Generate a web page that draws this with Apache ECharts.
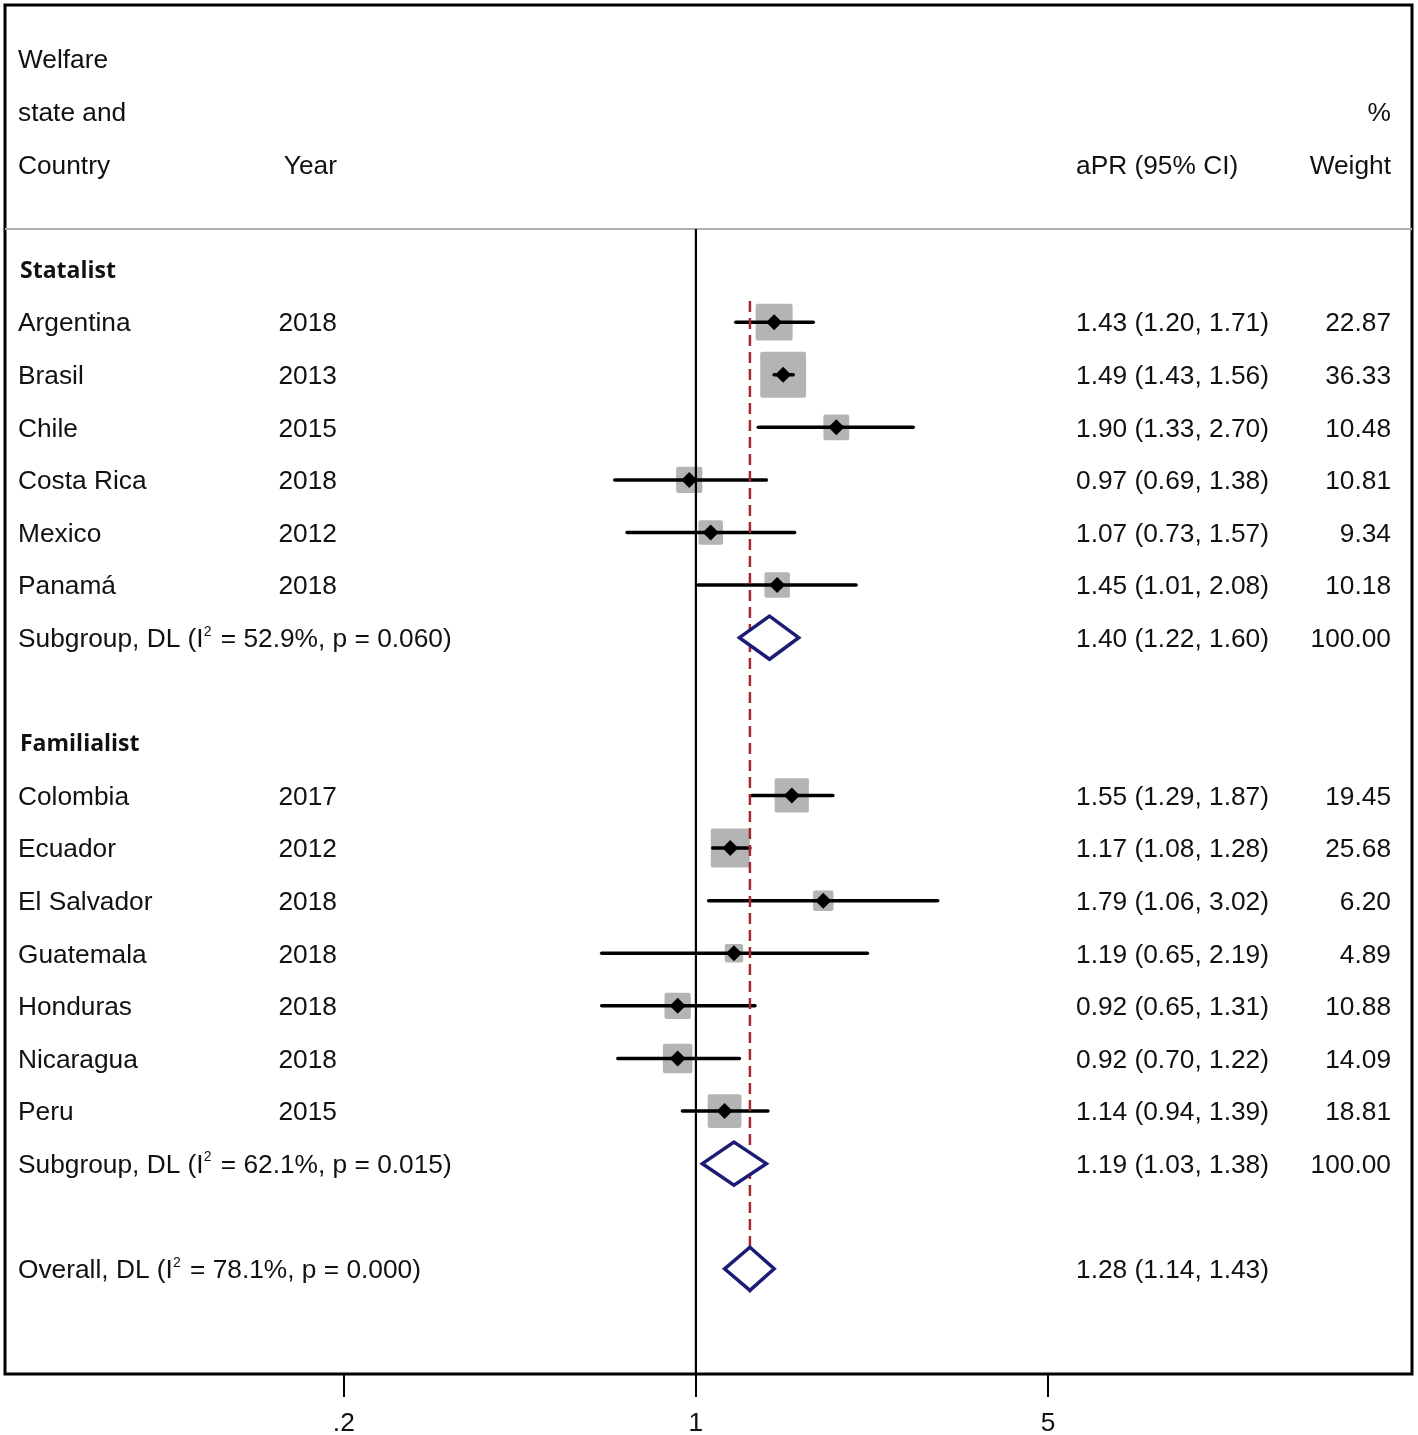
<!DOCTYPE html>
<html>
<head>
<meta charset="utf-8">
<script src="https://cdn.jsdelivr.net/npm/echarts@6/dist/echarts.min.js"></script>
<style>
html,body{margin:0;padding:0;background:#fff;}
#chart{width:1418px;height:1435px;}
</style>
</head>
<body>
<div id="chart"></div>
<script>
// ---------------- DATA ----------------
const group1Name = 'Statalist';
const countries1 = ['Argentina', 'Brasil', 'Chile', 'Costa Rica', 'Mexico', 'Panamá'];
const years1 = ['2018', '2013', '2015', '2018', '2012', '2018'];
const est1 = [1.43, 1.49, 1.90, 0.97, 1.07, 1.45];
const lci1 = [1.20, 1.43, 1.33, 0.69, 0.73, 1.01];
const uci1 = [1.71, 1.56, 2.70, 1.38, 1.57, 2.08];
const wt1 = [22.87, 36.33, 10.48, 10.81, 9.34, 10.18];
const sub1 = [1.40, 1.22, 1.60];          // est, lci, uci
const sub1Het = ['52.9%', '0.060'];        // I², p

const group2Name = 'Familialist';
const countries2 = ['Colombia', 'Ecuador', 'El Salvador', 'Guatemala', 'Honduras', 'Nicaragua', 'Peru'];
const years2 = ['2017', '2012', '2018', '2018', '2018', '2018', '2015'];
const est2 = [1.55, 1.17, 1.79, 1.19, 0.92, 0.92, 1.14];
const lci2 = [1.29, 1.08, 1.06, 0.65, 0.65, 0.70, 0.94];
const uci2 = [1.87, 1.28, 3.02, 2.19, 1.31, 1.22, 1.39];
const wt2 = [19.45, 25.68, 6.20, 4.89, 10.88, 14.09, 18.81];
const sub2 = [1.19, 1.03, 1.38];
const sub2Het = ['62.1%', '0.015'];

const overall = [1.28, 1.14, 1.43];
const overallHet = ['78.1%', '0.000'];

const tickValues = [0.2, 1, 5];
const tickLabels = ['.2', '1', '5'];
const nullValue = 1;
const axisExtent = [0.0425, 26.4];

// ---------------- BUILD ----------------
const L = v => Math.log10(v);
const FONT = "'Liberation Sans', Arial, sans-serif";
const BOLDFONT = "'Open Sans', 'Liberation Sans', sans-serif";
const FS = 26.3;
const TEXT_DY = 2;

const textRows = [];   // {row, label, year, ci, weight, bold}
const studies = [];    // {row, est, lci, uci, wt}
const pooled = [];     // {row, est, lci, uci}

textRows.push({row: 0, label: 'Welfare'});
textRows.push({row: 1, label: 'state and', weight: '%'});
textRows.push({row: 2, label: 'Country', year: 'Year', ci: 'aPR (95% CI)', weight: 'Weight'});

const fmtCI = (e, l, u) => e.toFixed(2) + ' (' + l.toFixed(2) + ', ' + u.toFixed(2) + ')';

let row = 4;
function addGroup(name, countries, years, est, lci, uci, wt, sub, het) {
  textRows.push({row: row, label: name, bold: true});
  row++;
  for (let i = 0; i < countries.length; i++) {
    textRows.push({row: row, label: countries[i], year: years[i], ci: fmtCI(est[i], lci[i], uci[i]), weight: wt[i].toFixed(2)});
    studies.push({row: row, est: est[i], lci: lci[i], uci: uci[i], wt: wt[i]});
    row++;
  }
  textRows.push({row: row, label: 'Subgroup, DL (I{sup|2} = ' + het[0] + ', p = ' + het[1] + ')', ci: fmtCI(sub[0], sub[1], sub[2]), weight: '100.00'});
  pooled.push({row: row, est: sub[0], lci: sub[1], uci: sub[2]});
  row += 2;
}
addGroup(group1Name, countries1, years1, est1, lci1, uci1, wt1, sub1, sub1Het);
addGroup(group2Name, countries2, years2, est2, lci2, uci2, wt2, sub2, sub2Het);
textRows.push({row: row, label: 'Overall, DL (I{sup|2} = ' + overallHet[0] + ', p = ' + overallHet[1] + ')', ci: fmtCI(overall[0], overall[1], overall[2])});
pooled.push({row: row, est: overall[0], lci: overall[1], uci: overall[2]});
const overallRow = row;

const xMin = L(axisExtent[0]), xMax = L(axisExtent[1]);
const yMin = -1.03, yMax = 25;
const headerLineRow = 3.23;

const chart = echarts.init(document.getElementById('chart'), null, {renderer: 'canvas'});

const richSup = {sup: {fontSize: 14, fontFamily: FONT, fill: '#111', verticalAlign: 'top', lineHeight: 30, padding: [0, 2, 0, 0]}};

function txt(x, y, text, align, opts) {
  opts = opts || {};
  return {
    type: 'text', x: x, y: y + TEXT_DY, silent: true,
    style: {
      text: text, fill: '#111',
      fontSize: opts.fontSize || FS,
      fontFamily: opts.fontFamily || FONT,
      fontWeight: opts.fontWeight || 'normal',
      align: align, verticalAlign: 'middle',
      rich: richSup
    }
  };
}

const option = {
  animation: false,
  backgroundColor: '#fff',
  grid: {left: 5, right: 6, top: 5, bottom: 61, show: true, borderColor: '#000', borderWidth: 3, backgroundColor: 'transparent', containLabel: false, outerBoundsMode: 'none'},
  xAxis: {
    type: 'value', min: xMin, max: xMax, position: 'bottom',
    splitLine: {show: false},
    axisLine: {show: false, onZero: false},
    axisTick: {show: true, customValues: tickValues.map(L), length: 23, lineStyle: {color: '#000', width: 2}},
    axisLabel: {
      customValues: tickValues.map(L), margin: 37, fontSize: FS, fontFamily: FONT, color: '#111',
      formatter: function (v) {
        for (let i = 0; i < tickValues.length; i++) if (Math.abs(L(tickValues[i]) - v) < 1e-6) return tickLabels[i];
        return '';
      }
    }
  },
  yAxis: {type: 'value', inverse: true, min: yMin, max: yMax, show: false},
  series: [
    { // weight boxes
      type: 'custom', z: 1, clip: false,
      data: studies.map(s => [L(s.est), s.row, s.wt]),
      renderItem: function (params, api) {
        const c = api.coord([api.value(0), api.value(1)]);
        const side = 7.2 * Math.sqrt(api.value(2)) + 2.5;
        return {type: 'rect', shape: {x: c[0] - side / 2, y: c[1] - side / 2, width: side, height: side, r: 2}, style: {fill: '#b4b4b4'}};
      }
    },
    { // header separator
      type: 'line', z: 2, symbol: 'none', silent: true,
      data: [[xMin, headerLineRow], [xMax, headerLineRow]],
      lineStyle: {color: '#b0b0b0', width: 2}
    },
    { // null line
      type: 'line', z: 2, symbol: 'none', silent: true,
      data: [[L(nullValue), headerLineRow], [L(nullValue), yMax]],
      lineStyle: {color: '#000', width: 2.2}
    },
    { // CI lines + point markers
      type: 'custom', z: 3, clip: false,
      data: studies.map(s => [L(s.est), s.row, L(s.lci), L(s.uci)]),
      renderItem: function (params, api) {
        const c = api.coord([api.value(0), api.value(1)]);
        const a = api.coord([api.value(2), api.value(1)]);
        const b = api.coord([api.value(3), api.value(1)]);
        const d = 8;
        return {type: 'group', children: [
          {type: 'line', shape: {x1: a[0], y1: a[1], x2: b[0], y2: b[1]}, style: {stroke: '#000', lineWidth: 3.5, lineCap: 'round'}},
          {type: 'polygon', shape: {points: [[c[0] - d, c[1]], [c[0], c[1] - d], [c[0] + d, c[1]], [c[0], c[1] + d]]}, style: {fill: '#000'}}
        ]};
      }
    },
    { // overall dashed line
      type: 'line', z: 4, symbol: 'none', silent: true,
      data: [[L(overall[0]), 4.6], [L(overall[0]), overallRow + 0.45]],
      lineStyle: {color: '#a3282f', width: 2.5, type: [11, 6]}
    },
    { // pooled diamonds
      type: 'custom', z: 5, clip: false,
      data: pooled.map(p => [L(p.est), p.row, L(p.lci), L(p.uci)]),
      renderItem: function (params, api) {
        const r = api.value(1), h = 0.41;
        const pts = [
          api.coord([api.value(2), r]),
          api.coord([api.value(0), r - h]),
          api.coord([api.value(3), r]),
          api.coord([api.value(0), r + h])
        ];
        return {type: 'polygon', shape: {points: pts}, style: {fill: '#fff', stroke: '#1c1c74', lineWidth: 3.5, lineJoin: 'miter'}};
      }
    },
    { // table text
      type: 'custom', z: 6, clip: false, silent: true,
      data: textRows.map((t, i) => [xMin, t.row, i]),
      renderItem: function (params, api) {
        const t = textRows[api.value(2)];
        const y = api.coord([xMin, api.value(1)])[1];
        const ch = [];
        if (t.label) ch.push(txt(t.bold ? 20 : 18, y, t.label, 'left', t.bold ? {fontFamily: BOLDFONT, fontWeight: 'bold', fontSize: 23} : null));
        if (t.year) ch.push(txt(337, y, t.year, 'right'));
        if (t.ci) ch.push(txt(1076, y, t.ci, 'left'));
        if (t.weight) ch.push(txt(1391, y, t.weight, 'right'));
        return {type: 'group', children: ch};
      }
    }
  ]
};
chart.setOption(option);
</script>
</body>
</html>
